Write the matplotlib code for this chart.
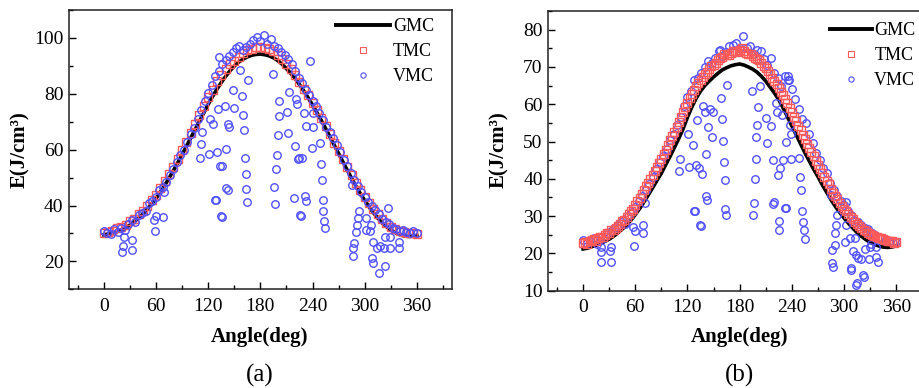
import numpy as np
import matplotlib
matplotlib.use("Agg")
import matplotlib.pyplot as plt
from matplotlib.lines import Line2D
from matplotlib.ticker import MultipleLocator

plt.rcParams["font.family"] = ["Liberation Serif", "DejaVu Serif"]

# ── panel (a) data ───────────────────────────────────────────────────────────
ANG5 = np.arange(0, 361, 5)        # sampling angles of GMC / TMC
ANG5_OFF = np.arange(2.5, 360, 5)  # in-between TMC samples (panel b)
ANG4 = np.arange(0, 361, 4)        # sampling angles of the VMC main cloud

GMC_A = [29.5, 29.8, 30.2, 30.6, 31.2, 32.0, 33.0, 34.2, 35.5, 37.0,
         38.7, 40.5, 42.5, 44.8, 47.2, 49.8, 52.5, 55.3, 58.2, 61.2,
         64.2, 67.2, 70.2, 73.2, 76.2, 79.0, 81.6, 84.0, 86.2, 88.2,
         89.9, 91.3, 92.4, 93.2, 93.8, 94.1, 94.2, 94.0, 93.6, 92.9,
         91.9, 90.6, 89.0, 87.3, 85.5, 83.3, 81.0, 78.5, 76.0, 73.3,
         70.5, 67.6, 64.6, 61.6, 58.6, 55.6, 52.6, 49.7, 46.9, 44.2,
         41.8, 39.5, 37.4, 35.5, 33.8, 32.4, 31.2, 30.3, 29.6, 29.1,
         28.9, 29.0, 29.3]
TMC_A = [30.0, 30.6, 31.0, 31.8, 32.3, 33.2, 34.3, 35.2, 36.8, 38.2,
         40.0, 42.0, 43.8, 46.2, 48.8, 51.2, 53.8, 56.5, 59.8, 62.8,
         66.0, 69.3, 72.5, 75.8, 78.8, 81.5, 84.5, 86.8, 88.7, 90.5,
         91.8, 93.2, 94.6, 95.5, 96.2, 96.6, 96.8, 96.5, 96.0, 95.3,
         94.0, 92.6, 90.8, 88.7, 86.6, 84.2, 81.8, 79.5, 76.8, 74.2,
         71.2, 68.4, 65.6, 62.5, 59.6, 56.8, 53.9, 51.0, 48.2, 45.6,
         43.2, 40.9, 38.9, 36.9, 35.2, 33.6, 32.4, 31.5, 30.8, 30.4,
         30.1, 30.0, 29.8]
VMC_A = [30.8, 30.2, 29.8, 31.5, 30.5, 32.0, 31.2, 33.5, 34.8, 34.0,
         36.5, 37.2, 38.0, 40.8, 41.5, 43.0, 45.5, 46.8, 48.5, 51.0,
         53.0, 55.5, 58.0, 60.0, 62.8, 65.5, 67.8, 71.0, 74.2, 77.5,
         80.2, 83.0, 86.5, 88.0, 90.5, 92.0, 93.5, 95.0, 96.5, 97.2,
         95.5, 96.8, 98.0, 99.2, 100.2, 99.0, 101.0, 98.0, 99.5, 97.0,
         96.5, 95.0, 93.8, 92.5, 90.5, 88.2, 85.8, 84.0, 81.5, 79.5,
         77.5, 75.8, 73.0, 70.5, 68.0, 66.2, 64.0, 61.5, 59.0, 56.2,
         54.0, 51.5, 49.0, 47.0, 45.0, 43.0, 41.2, 39.8, 38.5, 37.0,
         35.2, 34.0, 33.5, 32.0, 31.5, 30.8, 31.2, 30.5, 30.0, 30.8,
         30.2]
VMC_A_OUT_ANG = [21, 22, 32, 32.6, 23, 58.7, 58, 59.5, 68, 69.5,
                 110.5, 111.6, 113, 121, 122, 126, 128, 129, 130, 131.6,
                 132.8, 133.6, 136, 134.7, 136, 139, 140.5, 141, 142.8, 143,
                 144, 148, 150, 157, 159, 160.4, 161, 162, 163, 164,
                 165, 166, 195, 196, 196.5, 198, 199, 200, 201, 202,
                 211, 212, 212.6, 220, 219, 220.5, 222, 223, 225, 225.7,
                 226.8, 228.4, 230, 231.4, 232.6, 233, 237, 239, 240, 241,
                 248.7, 250, 251, 252, 252.5, 253.7, 254.5, 285, 287, 286,
                 288, 289.8, 291, 292, 293, 301.7, 306, 308, 309, 309,
                 302, 314, 316.6, 317.7, 321.6, 323.5, 323.5, 328.5, 329, 339,
                 339.7, 327, 307]
VMC_A_OUT_VAL = [23.2, 25.4, 23.9, 27.5, 28.9, 30.7, 34.9, 36.3, 35.8, 44.8,
                 56.9, 61.9, 66.4, 58.5, 71.1, 69.2, 42.0, 42.0, 59.0, 74.5,
                 93.2, 54.3, 54.3, 36.3, 36.0, 75.8, 60.2, 46.2, 45.4, 69.2,
                 68.0, 81.5, 74.8, 88.5, 79.2, 72.4, 67.1, 56.9, 51.3, 46.0,
                 41.4, 85.1, 87.0, 46.8, 40.6, 53.2, 58.2, 65.1, 72.0, 77.5,
                 73.6, 65.8, 80.7, 61.4, 42.7, 78.3, 76.3, 56.8, 57.0, 36.7,
                 36.1, 56.9, 73.0, 43.5, 41.7, 68.5, 91.7, 60.7, 68.0, 73.0,
                 62.3, 54.8, 49.2, 42.0, 37.9, 34.5, 31.8, 47.4, 24.8, 21.8,
                 26.5, 30.4, 32.9, 35.5, 37.9, 31.3, 31.0, 21.2, 19.4, 26.8,
                 35.5, 24.8, 15.8, 25.4, 24.8, 18.2, 28.9, 24.8, 28.9, 26.8,
                 24.8, 39.0, 33.0]

# ── panel (b) data ───────────────────────────────────────────────────────────
GMC_B = [21.2, 21.4, 21.8, 22.2, 22.7, 23.2, 23.8, 24.6, 25.5, 26.5,
         27.6, 28.9, 30.4, 32.0, 33.8, 35.7, 37.6, 39.6, 41.5, 43.8,
         46.0, 48.4, 50.8, 53.4, 56.5, 59.2, 61.6, 63.5, 65.0, 66.2,
         67.3, 68.3, 69.2, 69.8, 70.3, 70.6, 70.8, 70.5, 70.0, 69.4,
         68.6, 67.5, 66.2, 64.6, 63.0, 61.2, 59.0, 56.6, 54.2, 51.8,
         49.4, 47.0, 44.8, 42.6, 40.6, 38.4, 36.4, 34.4, 32.6, 31.0,
         29.5, 28.1, 26.8, 25.6, 24.6, 23.7, 23.0, 22.4, 22.0, 21.7,
         21.6, 21.7, 22.0]
TMC_B = [22.8, 22.5, 23.6, 23.2, 24.3, 25.0, 25.6, 26.4, 27.3, 28.6,
         29.8, 31.3, 33.0, 34.8, 36.9, 38.9, 41.0, 43.2, 45.4, 47.8,
         50.3, 52.6, 55.2, 57.8, 60.3, 62.7, 64.8, 66.5, 68.0, 69.4,
         70.6, 71.8, 72.7, 73.3, 73.8, 74.3, 74.6, 74.2, 73.6, 73.0,
         72.0, 71.0, 69.6, 68.0, 66.3, 64.4, 62.4, 60.2, 57.8, 55.4,
         53.0, 50.6, 48.3, 46.0, 43.8, 41.6, 39.5, 37.4, 35.5, 33.6,
         32.0, 30.5, 29.2, 27.8, 26.8, 26.0, 25.3, 24.6, 24.2, 23.8,
         23.4, 23.3, 23.0]
TMC_B_MID = [23.0, 23.2, 23.9, 24.0, 24.5, 25.5, 26.2, 26.7, 28.0, 29.0,
             30.7, 32.0, 34.0, 35.8, 38.0, 40.0, 42.2, 44.2, 46.6, 49.0,
             51.5, 54.0, 56.5, 59.2, 61.6, 63.8, 65.8, 67.4, 68.6, 70.2,
             71.0, 72.4, 73.4, 73.2, 74.4, 74.0, 75.0, 73.8, 73.6, 72.3,
             71.8, 70.2, 69.0, 67.0, 65.5, 63.2, 61.4, 59.0, 56.6, 54.2,
             51.8, 49.4, 47.2, 44.9, 42.7, 40.5, 38.5, 36.3, 34.5, 32.8,
             31.4, 29.8, 28.4, 27.3, 26.4, 25.6, 25.0, 24.4, 24.0, 23.5,
             23.4, 22.9]
VMC_B = [23.5, 22.8, 23.2, 24.0, 22.5, 24.5, 24.2, 25.5, 26.0, 26.8,
         27.5, 28.5, 28.0, 30.0, 31.2, 32.5, 34.0, 35.5, 37.0, 38.5,
         40.5, 42.5, 44.5, 46.0, 48.0, 50.5, 52.0, 54.5, 56.5, 59.5,
         62.0, 63.5, 66.5, 67.0, 68.5, 70.0, 71.5, 71.0, 72.5, 74.3,
         73.0, 74.0, 75.5, 76.0, 76.3, 75.2, 78.2, 75.0, 75.5, 73.5,
         74.6, 74.4, 72.0, 70.5, 72.5, 68.5, 67.0, 65.0, 67.5, 66.5,
         64.0, 61.5, 58.8, 56.0, 55.0, 52.0, 49.5, 47.0, 45.0, 43.0,
         41.5, 39.0, 37.0, 35.5, 34.0, 33.0, 31.5, 30.2, 29.0, 28.5,
         27.5, 26.8, 26.5, 25.5, 25.0, 24.5, 24.2, 23.5, 23.2, 22.8,
         23.0]
VMC_B_OUT_ANG = [20.3, 21, 20.3, 31.8, 30.7, 32.6, 57.5, 59.4, 58.2, 69,
                 69, 71, 110, 111, 121.8, 126.4, 121, 128, 129, 129.5,
                 131, 133.3, 134, 135, 136.8, 138, 139.8, 141, 141.8, 143,
                 143.7, 146.4, 148.7, 149.4, 157, 159, 160, 161, 161.7, 162.8,
                 163.6, 164.8, 166, 194.6, 195.4, 196.6, 197.3, 198.5, 199, 200.4,
                 201.5, 203, 210.7, 211.5, 216.5, 218.4, 219, 218.4, 222, 223.4,
                 224, 225, 225.3, 226, 229, 230, 231.8, 233, 233.7, 235.6,
                 236.8, 238.3, 239.5, 238.7, 248.3, 249, 250, 251.7, 252.9, 253.6,
                 254.8, 285.4, 286.6, 286.2, 287.4, 289.3, 290, 291.2, 292.3, 300.8,
                 302.7, 306.5, 307.7, 308.4, 310.3, 312.3, 314.2, 315.3, 313.4, 316,
                 320, 321.8, 323, 323.8, 324.9, 328.7, 329.5, 331.4, 337.2, 339,
                 337.2, 302.7]
VMC_B_OUT_VAL = [17.8, 20.4, 21.8, 17.8, 20.7, 21.8, 27.1, 26.0, 22.0, 25.4,
                 27.6, 33.4, 42.1, 45.4, 43.2, 49.2, 52.0, 31.4, 31.4, 43.7,
                 55.9, 42.8, 27.6, 27.3, 41.4, 59.5, 57.9, 46.6, 35.4, 34.3,
                 53.8, 58.6, 51.3, 57.8, 74.5, 61.8, 56.0, 50.2, 44.6, 39.8,
                 32.0, 30.3, 65.1, 63.6, 30.3, 33.4, 39.9, 45.3, 51.3, 54.4,
                 59.3, 64.8, 56.4, 49.5, 54.1, 45.0, 33.8, 33.2, 60.2, 57.9,
                 41.0, 26.4, 28.7, 42.8, 57.0, 45.0, 32.3, 32.3, 49.9, 67.5,
                 66.4, 54.4, 52.1, 45.4, 45.7, 40.5, 37.0, 31.3, 28.5, 26.2,
                 23.9, 35.6, 20.9, 17.3, 16.4, 22.2, 25.4, 27.6, 30.4, 23.1,
                 27.6, 24.0, 15.5, 16.2, 20.7, 24.0, 11.5, 12.1, 19.6, 18.9,
                 18.4, 14.2, 13.6, 21.3, 25.8, 18.4, 21.8, 22.5, 19.1, 17.8,
                 21.8, 33.8]

XTICKS = [0, 60, 120, 180, 240, 300, 360]

RED = "#ff5a5a"
BLUE = "#5050ff"
W, H = 920, 388
MS_T, MS_V, MEW = 5.2, 5.4, 1.0


def fx(px):
    return px / W


def fy(py):
    return 1 - py / H


def panel(fig, rect, gmc, tmc, tmc_mid, vmc, out_ang, out_val, ylim, ymaj,
          ymin, vmc_on_top, leg_xy, leg_hlen, tag, tag_x):
    ax = fig.add_axes(rect)
    z_t, z_v = (3, 4) if vmc_on_top else (4, 3)
    ax.plot(ANG5, gmc, color="black", lw=2.6, zorder=2)
    ax.plot(ANG5, tmc, ls="none", marker="s", ms=MS_T, mfc="none",
            mec=RED, mew=MEW, zorder=z_t)
    if tmc_mid is not None:
        ax.plot(ANG5_OFF, tmc_mid, ls="none", marker="s", ms=MS_T, mfc="none",
                mec=RED, mew=MEW, zorder=z_t)
    ax.plot(ANG4, vmc, ls="none", marker="o", ms=MS_V, mfc="none",
            mec=BLUE, mew=MEW, zorder=z_v)
    ax.plot(out_ang, out_val, ls="none", marker="o", ms=MS_V, mfc="none",
            mec=BLUE, mew=MEW, zorder=z_v)

    ax.set_xlim(-40, 400)
    ax.set_ylim(*ylim)
    ax.set_xticks(XTICKS)
    ax.xaxis.set_minor_locator(MultipleLocator(30))
    ax.yaxis.set_major_locator(MultipleLocator(ymaj))
    ax.yaxis.set_minor_locator(MultipleLocator(ymin))
    ax.tick_params(which="both", direction="in", top=False, right=False,
                   labelsize=14, width=1.0)
    ax.tick_params(which="major", length=5)
    ax.tick_params(which="minor", length=3)
    ax.tick_params(axis="x", pad=6)
    ax.tick_params(axis="y", pad=4)
    for s in ax.spines.values():
        s.set_linewidth(1.1)
        s.set_color("#222222")

    handles = [
        Line2D([], [], color="black", lw=2.8),
        Line2D([], [], ls="none", marker="s", ms=MS_T, mfc="none", mec=RED, mew=0.8),
        Line2D([], [], ls="none", marker="o", ms=MS_V, mfc="none", mec=BLUE, mew=0.8),
    ]
    ax.legend(handles, ["GMC", "TMC", "VMC"], loc="upper left",
              bbox_to_anchor=leg_xy, bbox_transform=fig.transFigure,
              frameon=False, borderpad=0, borderaxespad=0,
              handlelength=leg_hlen, handletextpad=0.15, labelspacing=0.45,
              markerscale=0.7, fontsize=13)

    # axis titles and panel tag
    x0 = rect[0] * W
    fig.text(fx(x0 - 49), fy(150), "E(J/cm³)", rotation=90, ha="center",
             va="center", fontsize=15, fontweight="bold")
    fig.text(fx(tag_x), fy(337), "Angle(deg)", ha="center", va="center",
             fontsize=15, fontweight="bold")
    fig.text(fx(tag_x), fy(375), tag, ha="center", va="center", fontsize=18)
    return ax


fig = plt.figure(figsize=(9.2, 3.88), dpi=100)

panel(fig, [fx(69), fy(289.3), fx(382.7), 279.3 / H],
      GMC_A, TMC_A, None, VMC_A, VMC_A_OUT_ANG, VMC_A_OUT_VAL,
      (10, 110), 20, 10, True, (fx(336), fy(18)), 3.0, "(a)", 260)
panel(fig, [fx(548.3), fy(290.7), fx(382.7), 279.7 / H],
      GMC_B, TMC_B, TMC_B_MID, VMC_B, VMC_B_OUT_ANG, VMC_B_OUT_VAL,
      (10, 85), 10, 5, False, (fx(830), fy(22)), 2.3, "(b)", 740)

fig.savefig("out.png", dpi=100)
